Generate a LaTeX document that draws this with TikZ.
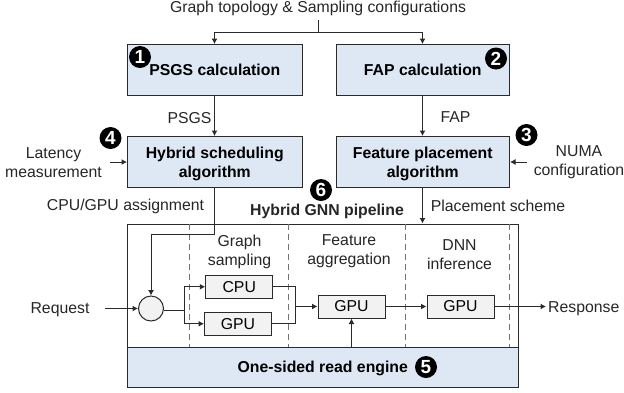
\documentclass[tikz,border=0pt]{standalone}
\usepackage{fontspec}
\setmainfont{Liberation Sans}
\usetikzlibrary{arrows.meta}
\definecolor{bluebox}{HTML}{DEE8F4}
\definecolor{greybox}{HTML}{F2F2F2}
\definecolor{linec}{HTML}{2A2A2A}
\newcommand{\twolines}[2]{\raisebox{-5.5pt}[19pt][19pt]{\begin{tabular}{@{}c@{}}#1\\#2\end{tabular}}}
\tikzset{
  main/.style={draw=linec,fill=bluebox,line width=1pt,inner sep=0pt,align=center,font=\fontsize{15.8}{19}\selectfont\bfseries},
  unit/.style={draw=linec,fill=greybox,line width=1pt,inner sep=0pt,minimum width=67pt,minimum height=23pt,font=\fontsize{15.8}{17}\selectfont},
  lbl/.style={inner sep=0pt,align=center,text=black!85,yshift=-1.5pt,font=\fontsize{15.8}{19}\selectfont},
  badge/.style={circle,fill=black,text=white,inner sep=0pt,minimum size=22pt,font=\fontsize{19}{19}\selectfont\bfseries},
  conn/.style={draw=linec,line width=1pt,-{Latex[length=5.5pt,width=6pt]}},
  wire/.style={draw=linec,line width=1pt},
  sep/.style={draw=black!55,line width=1pt,dash pattern=on 6pt off 4pt}
}
\begin{document}
\begin{tikzpicture}[x=1pt,y=-1pt]
\useasboundingbox (0,0) rectangle (624,392);
% top
\node[lbl] (topt) at (318,7) {Graph topology \& Sampling configurations};
\node[main,minimum width=174.5pt,minimum height=51pt] (psgs) at (214.75,70) {PSGS calculation};
\node[main,minimum width=173.5pt,minimum height=51pt] (fap) at (422.75,70) {FAP calculation};
\node[main,minimum width=174.5pt,minimum height=51pt] (hyb) at (214.75,162) {\twolines{Hybrid scheduling}{algorithm}};
\node[main,minimum width=173.5pt,minimum height=51pt] (feat) at (422.75,162) {\twolines{Feature placement}{algorithm}};
% pipeline
\node[draw=linec,line width=1pt,fill=white,inner sep=0pt,minimum width=390.5pt,minimum height=163pt] (pipe) at (322.75,305.5) {};
\node[main,minimum width=390.5pt,minimum height=40pt] (eng) at (322.75,367) {\raisebox{0pt}[11.5pt][1.5pt]{One-sided read engine}};
\coordinate (d1t) at (189.5,224); \coordinate (d1b) at (189.5,347);
\coordinate (d2t) at (288,224); \coordinate (d2b) at (288,347);
\coordinate (d3t) at (405,224); \coordinate (d3b) at (405,347);
\coordinate (d4t) at (509,224); \coordinate (d4b) at (509,347);
\draw[sep] (d1t)--(d1b); \draw[sep] (d2t)--(d2b); \draw[sep] (d3t)--(d3b); \draw[sep] (d4t)--(d4b);
\node[circle,draw=linec,fill=greybox,line width=1pt,inner sep=0pt,minimum size=25pt] (sw) at (151,308.5) {};
\node[unit,minimum width=67pt] (cpu) at (239.25,286.75) {CPU};
\node[unit,minimum width=67pt] (gpua) at (238,323.75) {GPU};
\node[unit] (gpub) at (351.5,306.5) {GPU};
\node[unit] (gpuc) at (460.5,306.5) {GPU};
% labels
\node[lbl] (l1) at (239.5,250) {Graph\\sampling};
\node[lbl] (l2) at (349,250) {Feature\\aggregation};
\node[lbl] (l3) at (459.5,253) {DNN\\inference};
\node[lbl] (lpsgs) at (189.5,116.5) {PSGS};
\node[lbl] (lfap) at (455.5,115.5) {FAP};
\node[lbl] (llat) at (53.5,161) {Latency\\measurement};
\node[lbl] (lnuma) at (579,161) {NUMA\\configuration};
\node[lbl] (lcg) at (125.5,205) {CPU/GPU assignment};
\node[lbl,font=\fontsize{15.8}{19}\selectfont\bfseries] (lhgp) at (327,210) {Hybrid GNN pipeline};
\node[lbl] (lps) at (498,204.5) {Placement scheme};
\node[lbl] (lreq) at (60,308) {Request};
\node[lbl,anchor=west] (lresp) at (548,307) {Response};
% connectors
\coordinate (tj) at (318.5,32.5);
\coordinate (tl) at (214.5,32.5);
\coordinate (tr) at (422.5,32.5);
\coordinate (t0) at (318.5,20);
\draw[wire] (t0)--(tj);
\draw[conn] (tj)--(tl)--(tl|-psgs.north);
\draw[conn] (tj)--(tr)--(tr|-fap.north);
\draw[conn] (tl|-psgs.south)--(tl|-hyb.north);
\draw[conn] (tr|-fap.south)--(tr|-feat.north);
\coordinate (la) at (110,162); \coordinate (na) at (527,162);
\draw[conn] (la)--(hyb.west|-la);
\draw[conn] (na)--(feat.east|-na);
\coordinate (as1) at (214.5,234); \coordinate (as2) at (151,234);
\draw[conn] (tl|-hyb.south)--(as1)--(as2)--(sw.north);
\draw[conn] (tr|-feat.south)--(tr|-pipe.north);
\coordinate (rq) at (105,308.5);
\draw[conn] (rq)--(sw.west);
\coordinate (sj) at (184,310);
\draw[wire] (sw.east|-sj)--(sj);
\draw[conn] (sj)--(sj|-cpu.west)--(cpu.west);
\draw[conn] (sj)--(sj|-gpua.west)--(gpua.west);
\coordinate (mj) at (295.5,306.5);
\draw[wire] (cpu.east)-|(mj);
\draw[wire] (gpua.east)-|(mj);
\draw[conn] (mj)--(gpub.west);
\draw[conn] (gpub.east)--(gpuc.west);
\coordinate (rs) at (546,306.5);
\draw[conn] (gpuc.east)--(rs);
\draw[conn] (gpub.south|-eng.north)--(gpub.south);
% badges
\node[badge] (b1) at (140,57) {1};
\node[badge] (b2) at (496,58.5) {2};
\node[badge] (b3) at (526.5,135) {3};
\node[badge] (b4) at (110.5,138) {4};
\node[badge] (b5) at (426,367) {5};
\node[badge] (b6) at (321,190) {6};
\end{tikzpicture}
\end{document}
